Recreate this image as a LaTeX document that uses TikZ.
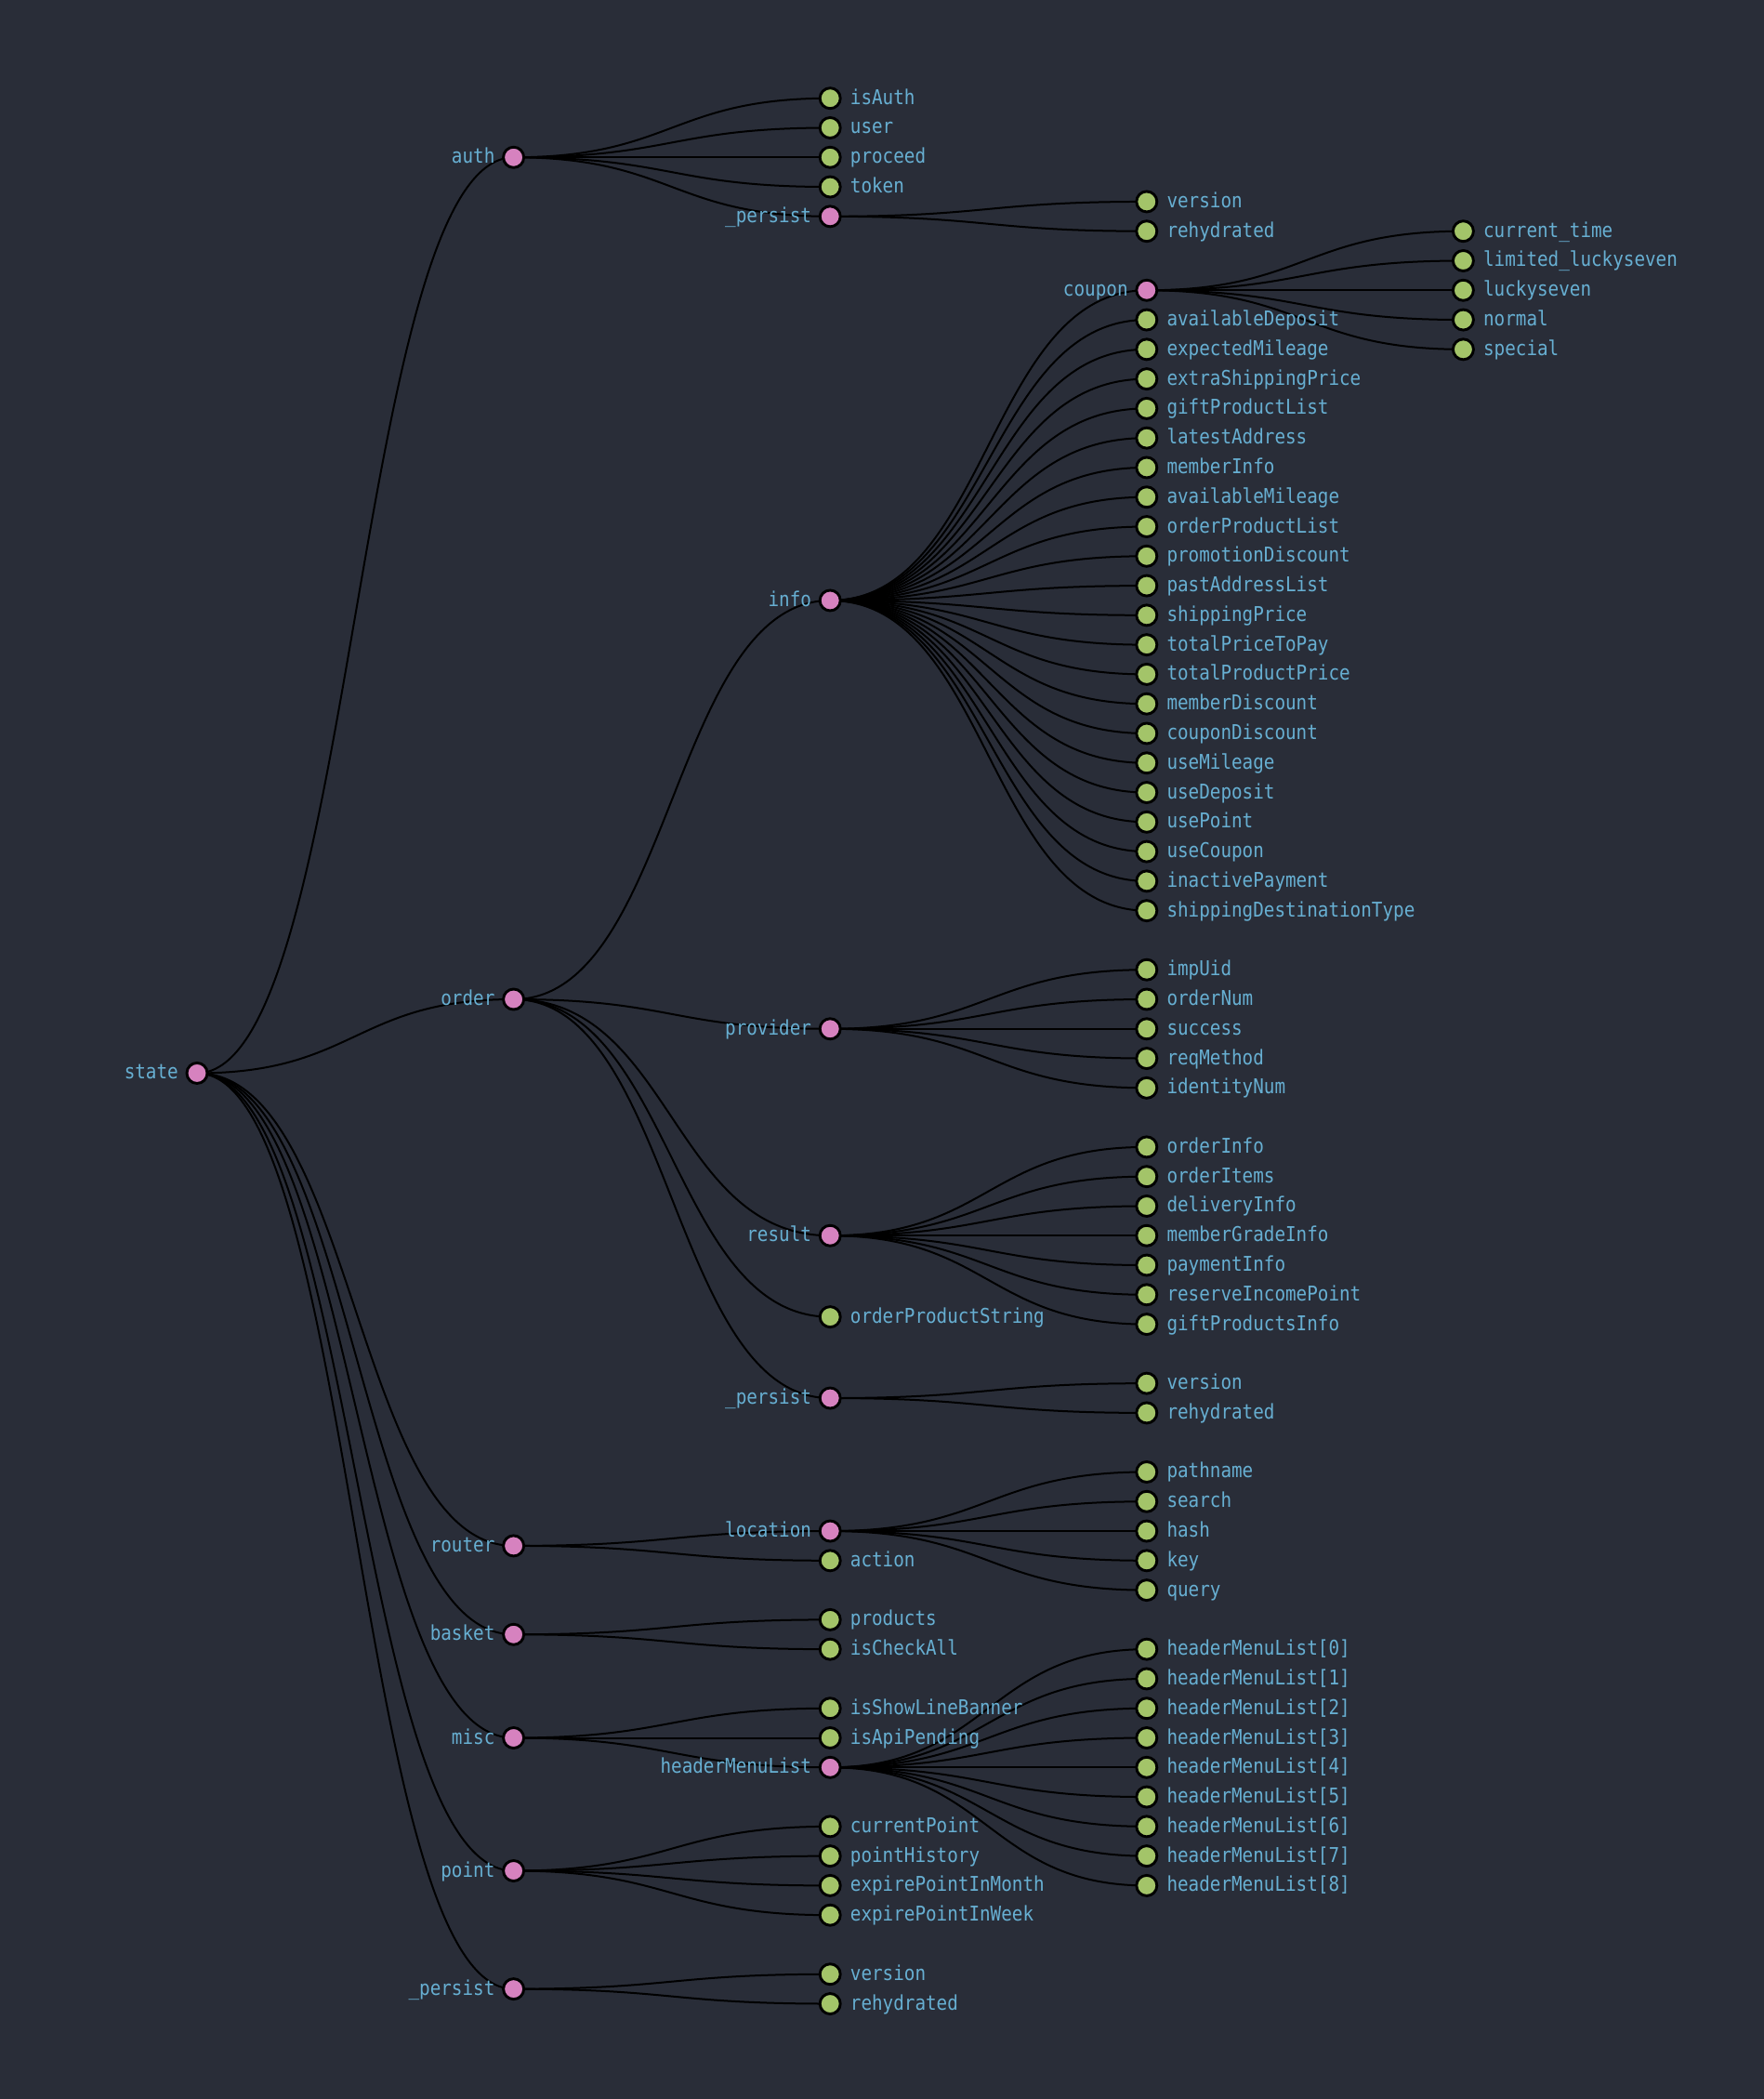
\documentclass[tikz,border=0pt]{standalone}
\usepackage{fontspec}
\newfontfamily\labelfont[FakeStretch=0.88]{DejaVu Sans Mono}
\usetikzlibrary{calc}
\definecolor{canvas}{HTML}{292D38}
\definecolor{labelblue}{HTML}{67AFD2}
\definecolor{pinkdot}{HTML}{D682BF}
\definecolor{greendot}{HTML}{A3C469}
\pgfdeclarelayer{bg}
\pgfdeclarelayer{edgelayer}
\pgfsetlayers{bg,edgelayer,main}
% column positions of the tree levels
\def\colA{212}
\def\colB{552.6}
\def\colC{893.2}
\def\colD{1233.8}
\def\colE{1574.4}
\tikzset{
  dot/.style={circle, draw=black, line width=2.9pt, minimum size=22pt, inner sep=0pt},
  innerdot/.style={dot, fill=pinkdot},
  leafdot/.style={dot, fill=greendot},
  lbl/.style={inner sep=0pt, text=labelblue, font=\labelfont\fontsize{21.9pt}{26pt}\selectfont},
  lblR/.style={lbl, anchor=base west},
  lblL/.style={lbl, anchor=base east},
  edge/.style={draw=black, line width=2pt, out=0, in=180, distance=170.3pt},
}
% link from parent to child, drawn beneath the dots
\newcommand\joinnodes[2]{%
  \begin{pgfonlayer}{edgelayer}\draw[edge] (#1.center) to (#2.center);\end{pgfonlayer}}
% name, x, row, text, parent
\newcommand\branchnode[5]{%
  \node[innerdot] (#1) at (#2,#3) {};
  \node[lblL] (#1-label) at ([xshift=-20pt,yshift=-6.5pt]#1.center) {#4};
  \joinnodes{#5}{#1}}
\newcommand\leafnode[5]{%
  \node[leafdot] (#1) at (#2,#3) {};
  \node[lblR] (#1-label) at ([xshift=21.5pt,yshift=-6.5pt]#1.center) {#4};
  \joinnodes{#5}{#1}}
\begin{document}
\begin{tikzpicture}[x=1pt, y=-31.78pt]
\begin{pgfonlayer}{bg}
  \fill[canvas] (0,-3.326) rectangle (1898,67.725);
\end{pgfonlayer}
\useasboundingbox (0,-3.326) rectangle (1898,67.725);

% root
\node[innerdot] (state) at (\colA,33) {};
\node[lblL] (state-label) at ([xshift=-20pt,yshift=-6.5pt]state.center) {state};

% auth
\branchnode{auth}{\colB}{2}{auth}{state}
\leafnode{isAuth}{\colC}{0}{isAuth}{auth}
\leafnode{user}{\colC}{1}{user}{auth}
\leafnode{proceed}{\colC}{2}{proceed}{auth}
\leafnode{token}{\colC}{3}{token}{auth}
\branchnode{authPersist}{\colC}{4}{\_persist}{auth}
\leafnode{authVersion}{\colD}{3.5}{version}{authPersist}
\leafnode{authRehydrated}{\colD}{4.5}{rehydrated}{authPersist}

% order
\branchnode{order}{\colB}{30.5}{order}{state}
\branchnode{info}{\colC}{17}{info}{order}
\branchnode{coupon}{\colD}{6.5}{coupon}{info}
\leafnode{currentTime}{\colE}{4.5}{current\_time}{coupon}
\leafnode{limitedLucky}{\colE}{5.5}{limited\_luckyseven}{coupon}
\leafnode{luckyseven}{\colE}{6.5}{luckyseven}{coupon}
\leafnode{normal}{\colE}{7.5}{normal}{coupon}
\leafnode{special}{\colE}{8.5}{special}{coupon}
\leafnode{availableDeposit}{\colD}{7.5}{availableDeposit}{info}
\leafnode{expectedMileage}{\colD}{8.5}{expectedMileage}{info}
\leafnode{extraShippingPrice}{\colD}{9.5}{extraShippingPrice}{info}
\leafnode{giftProductList}{\colD}{10.5}{giftProductList}{info}
\leafnode{latestAddress}{\colD}{11.5}{latestAddress}{info}
\leafnode{memberInfo}{\colD}{12.5}{memberInfo}{info}
\leafnode{availableMileage}{\colD}{13.5}{availableMileage}{info}
\leafnode{orderProductList}{\colD}{14.5}{orderProductList}{info}
\leafnode{promotionDiscount}{\colD}{15.5}{promotionDiscount}{info}
\leafnode{pastAddressList}{\colD}{16.5}{pastAddressList}{info}
\leafnode{shippingPrice}{\colD}{17.5}{shippingPrice}{info}
\leafnode{totalPriceToPay}{\colD}{18.5}{totalPriceToPay}{info}
\leafnode{totalProductPrice}{\colD}{19.5}{totalProductPrice}{info}
\leafnode{memberDiscount}{\colD}{20.5}{memberDiscount}{info}
\leafnode{couponDiscount}{\colD}{21.5}{couponDiscount}{info}
\leafnode{useMileage}{\colD}{22.5}{useMileage}{info}
\leafnode{useDeposit}{\colD}{23.5}{useDeposit}{info}
\leafnode{usePoint}{\colD}{24.5}{usePoint}{info}
\leafnode{useCoupon}{\colD}{25.5}{useCoupon}{info}
\leafnode{inactivePayment}{\colD}{26.5}{inactivePayment}{info}
\leafnode{shippingDestType}{\colD}{27.5}{shippingDestinationType}{info}

\branchnode{provider}{\colC}{31.5}{provider}{order}
\leafnode{impUid}{\colD}{29.5}{impUid}{provider}
\leafnode{orderNum}{\colD}{30.5}{orderNum}{provider}
\leafnode{success}{\colD}{31.5}{success}{provider}
\leafnode{reqMethod}{\colD}{32.5}{reqMethod}{provider}
\leafnode{identityNum}{\colD}{33.5}{identityNum}{provider}

\branchnode{result}{\colC}{38.5}{result}{order}
\leafnode{orderInfo}{\colD}{35.5}{orderInfo}{result}
\leafnode{orderItems}{\colD}{36.5}{orderItems}{result}
\leafnode{deliveryInfo}{\colD}{37.5}{deliveryInfo}{result}
\leafnode{memberGradeInfo}{\colD}{38.5}{memberGradeInfo}{result}
\leafnode{paymentInfo}{\colD}{39.5}{paymentInfo}{result}
\leafnode{reserveIncomePoint}{\colD}{40.5}{reserveIncomePoint}{result}
\leafnode{giftProductsInfo}{\colD}{41.5}{giftProductsInfo}{result}

\leafnode{orderProductString}{\colC}{41.25}{orderProductString}{order}

\branchnode{orderPersist}{\colC}{44}{\_persist}{order}
\leafnode{orderVersion}{\colD}{43.5}{version}{orderPersist}
\leafnode{orderRehydrated}{\colD}{44.5}{rehydrated}{orderPersist}

% router
\branchnode{router}{\colB}{49}{router}{state}
\branchnode{location}{\colC}{48.5}{location}{router}
\leafnode{pathname}{\colD}{46.5}{pathname}{location}
\leafnode{search}{\colD}{47.5}{search}{location}
\leafnode{hash}{\colD}{48.5}{hash}{location}
\leafnode{key}{\colD}{49.5}{key}{location}
\leafnode{query}{\colD}{50.5}{query}{location}
\leafnode{action}{\colC}{49.5}{action}{router}

% basket
\branchnode{basket}{\colB}{52}{basket}{state}
\leafnode{products}{\colC}{51.5}{products}{basket}
\leafnode{isCheckAll}{\colC}{52.5}{isCheckAll}{basket}

% misc
\branchnode{misc}{\colB}{55.5}{misc}{state}
\leafnode{isShowLineBanner}{\colC}{54.5}{isShowLineBanner}{misc}
\leafnode{isApiPending}{\colC}{55.5}{isApiPending}{misc}
\branchnode{headerMenuList}{\colC}{56.5}{headerMenuList}{misc}
\foreach \i in {0,...,8} {
  \pgfmathsetmacro\rowval{52.5+\i}
  \leafnode{hml\i}{\colD}{\rowval}{headerMenuList[\i]}{headerMenuList}
}

% point
\branchnode{point}{\colB}{60}{point}{state}
\leafnode{currentPoint}{\colC}{58.5}{currentPoint}{point}
\leafnode{pointHistory}{\colC}{59.5}{pointHistory}{point}
\leafnode{expireMonth}{\colC}{60.5}{expirePointInMonth}{point}
\leafnode{expireWeek}{\colC}{61.5}{expirePointInWeek}{point}

% _persist
\branchnode{statePersist}{\colB}{64}{\_persist}{state}
\leafnode{stateVersion}{\colC}{63.5}{version}{statePersist}
\leafnode{stateRehydrated}{\colC}{64.5}{rehydrated}{statePersist}
\end{tikzpicture}
\end{document}
